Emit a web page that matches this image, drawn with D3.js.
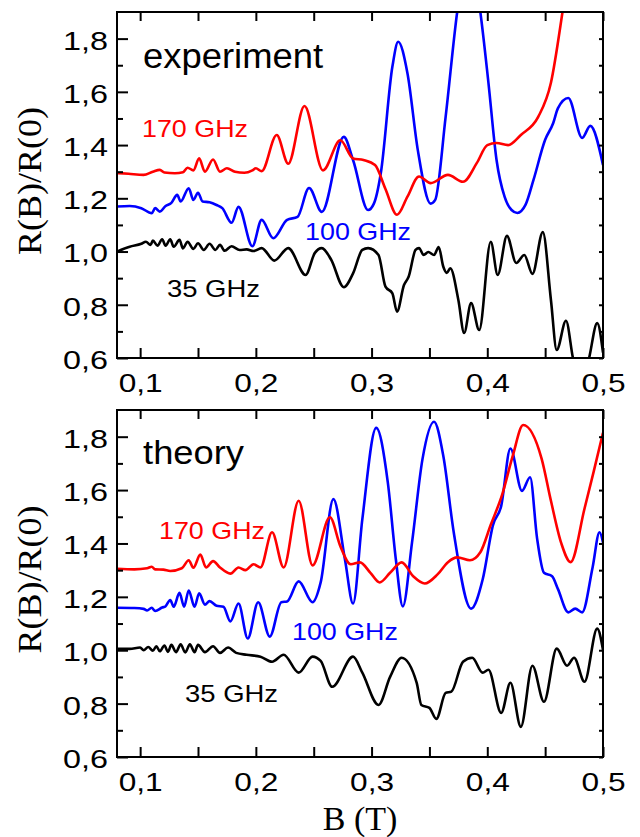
<!DOCTYPE html>
<html>
<head>
<meta charset="utf-8">
<script src="https://cdn.jsdelivr.net/npm/d3@7"></script>
<style>
  body { margin: 0; background: #fff; }
</style>
</head>
<body>
<div id="chart"></div>
<script>
// --- data: [B (T), R(B)/R(0)] ---
const expRed = [[0.080,1.295],[0.090,1.292],[0.103,1.288],[0.111,1.300],[0.117,1.307],[0.121,1.297],[0.130,1.294],[0.137,1.298],[0.141,1.315],[0.146,1.305],[0.151,1.350],[0.156,1.300],[0.163,1.346],[0.169,1.300],[0.175,1.313],[0.182,1.300],[0.190,1.296],[0.197,1.305],[0.200,1.313],[0.205,1.302],[0.218,1.438],[0.228,1.330],[0.242,1.547],[0.258,1.305],[0.273,1.418],[0.284,1.350],[0.293,1.344],[0.303,1.325],[0.312,1.235],[0.322,1.138],[0.331,1.206],[0.341,1.282],[0.351,1.257],[0.366,1.288],[0.379,1.262],[0.391,1.333],[0.400,1.400],[0.408,1.408],[0.418,1.400],[0.429,1.438],[0.444,1.506],[0.455,1.634],[0.465,1.900],[0.470,2.050]];
const expBlue = [[0.080,1.169],[0.091,1.171],[0.101,1.163],[0.110,1.144],[0.113,1.163],[0.117,1.150],[0.122,1.171],[0.127,1.183],[0.132,1.213],[0.135,1.188],[0.142,1.238],[0.146,1.194],[0.150,1.221],[0.154,1.188],[0.160,1.185],[0.166,1.175],[0.171,1.163],[0.179,1.108],[0.185,1.168],[0.197,1.020],[0.205,1.119],[0.215,1.050],[0.227,1.119],[0.236,1.130],[0.246,1.239],[0.257,1.149],[0.276,1.431],[0.284,1.344],[0.297,1.156],[0.302,1.180],[0.308,1.295],[0.318,1.695],[0.323,1.788],[0.331,1.670],[0.340,1.380],[0.351,1.180],[0.355,1.194],[0.364,1.506],[0.374,1.900],[0.384,2.150],[0.394,1.900],[0.401,1.634],[0.408,1.344],[0.415,1.205],[0.421,1.156],[0.426,1.145],[0.433,1.175],[0.440,1.270],[0.450,1.420],[0.457,1.483],[0.461,1.538],[0.470,1.577],[0.482,1.427],[0.489,1.472],[0.500,1.325]];
const expBlack = [[0.080,1.000],[0.091,1.018],[0.101,1.029],[0.105,1.037],[0.109,1.025],[0.111,1.041],[0.115,1.022],[0.119,1.046],[0.122,1.022],[0.126,1.046],[0.129,1.018],[0.134,1.044],[0.137,1.012],[0.141,1.037],[0.146,1.010],[0.150,1.031],[0.155,1.006],[0.160,1.029],[0.165,1.006],[0.169,1.025],[0.173,1.003],[0.179,1.020],[0.186,1.006],[0.192,1.008],[0.198,1.002],[0.205,1.013],[0.216,0.966],[0.228,1.013],[0.243,0.912],[0.251,0.995],[0.257,1.013],[0.265,0.970],[0.276,0.866],[0.284,0.918],[0.292,1.006],[0.297,1.013],[0.306,0.987],[0.312,0.868],[0.318,0.843],[0.322,0.774],[0.328,0.874],[0.332,0.905],[0.338,1.006],[0.341,1.013],[0.345,0.987],[0.349,0.998],[0.354,0.987],[0.358,1.017],[0.362,0.943],[0.365,0.920],[0.368,0.937],[0.375,0.818],[0.380,0.694],[0.386,0.806],[0.393,0.705],[0.403,1.037],[0.409,0.912],[0.417,1.059],[0.425,0.957],[0.432,0.987],[0.439,0.916],[0.448,1.073],[0.455,0.818],[0.460,0.630],[0.468,0.740],[0.474,0.600],[0.481,0.480],[0.488,0.600],[0.495,0.731],[0.500,0.620]];

const theoRed = [[0.080,1.305],[0.095,1.303],[0.106,1.307],[0.110,1.313],[0.113,1.303],[0.120,1.302],[0.126,1.297],[0.136,1.307],[0.142,1.337],[0.146,1.309],[0.152,1.358],[0.157,1.310],[0.163,1.334],[0.169,1.310],[0.178,1.287],[0.185,1.310],[0.191,1.300],[0.198,1.322],[0.204,1.310],[0.214,1.442],[0.224,1.310],[0.237,1.560],[0.249,1.318],[0.264,1.498],[0.273,1.390],[0.282,1.322],[0.290,1.329],[0.299,1.290],[0.307,1.254],[0.316,1.290],[0.326,1.329],[0.336,1.277],[0.346,1.250],[0.357,1.284],[0.366,1.330],[0.374,1.348],[0.385,1.337],[0.394,1.367],[0.403,1.470],[0.413,1.585],[0.422,1.728],[0.431,1.844],[0.447,1.717],[0.455,1.560],[0.464,1.400],[0.472,1.330],[0.484,1.530],[0.492,1.670],[0.500,1.815]];
const theoBlue = [[0.080,1.159],[0.095,1.158],[0.103,1.155],[0.106,1.149],[0.110,1.159],[0.113,1.147],[0.119,1.160],[0.122,1.165],[0.126,1.188],[0.129,1.163],[0.134,1.215],[0.138,1.163],[0.142,1.224],[0.147,1.163],[0.151,1.213],[0.156,1.171],[0.160,1.184],[0.166,1.167],[0.172,1.163],[0.178,1.108],[0.185,1.175],[0.193,1.044],[0.202,1.180],[0.212,1.051],[0.222,1.180],[0.227,1.183],[0.237,1.258],[0.249,1.180],[0.256,1.254],[0.267,1.566],[0.277,1.340],[0.284,1.175],[0.292,1.490],[0.304,1.833],[0.314,1.630],[0.321,1.340],[0.327,1.164],[0.335,1.405],[0.344,1.716],[0.354,1.856],[0.362,1.728],[0.371,1.442],[0.386,1.156],[0.396,1.265],[0.405,1.470],[0.412,1.540],[0.420,1.756],[0.430,1.597],[0.437,1.648],[0.443,1.420],[0.449,1.290],[0.456,1.277],[0.461,1.230],[0.470,1.142],[0.476,1.156],[0.482,1.142],[0.491,1.310],[0.497,1.442],[0.500,1.404]];
const theoBlack = [[0.080,1.005],[0.091,1.005],[0.100,1.010],[0.103,1.000],[0.107,1.012],[0.111,0.998],[0.114,1.015],[0.117,0.996],[0.121,1.018],[0.124,0.994],[0.127,1.020],[0.131,0.993],[0.135,1.022],[0.139,0.992],[0.143,1.022],[0.147,0.993],[0.150,1.020],[0.156,0.993],[0.163,1.015],[0.169,0.990],[0.176,1.010],[0.183,0.990],[0.192,0.983],[0.204,0.976],[0.214,0.957],[0.224,0.983],[0.237,0.916],[0.249,0.976],[0.256,0.960],[0.266,0.863],[0.284,0.976],[0.292,0.916],[0.306,0.795],[0.316,0.900],[0.326,0.972],[0.339,0.878],[0.343,0.795],[0.350,0.784],[0.356,0.743],[0.364,0.840],[0.369,0.845],[0.379,0.957],[0.387,0.972],[0.396,0.916],[0.401,0.927],[0.412,0.765],[0.420,0.878],[0.429,0.713],[0.439,0.942],[0.449,0.807],[0.460,1.006],[0.469,0.942],[0.475,0.972],[0.484,0.882],[0.495,1.081],[0.500,1.002]];

const xTicks = [0.1, 0.2, 0.3, 0.4, 0.5];
const xMinor = [0.15, 0.25, 0.35, 0.45];
const yTicks = [0.6, 0.8, 1.0, 1.2, 1.4, 1.6, 1.8];
const yMinor = [0.7, 0.9, 1.1, 1.3, 1.5, 1.7];

// label text and anchor positions in data coordinates
const expLabels = [
    {text: "experiment", b: 0.1025, v: 1.690, color: "#000", size: 35, len: 180},
    {text: "170 GHz", b: 0.1016, v: 1.431, color: "#f00", size: 24, len: 106},
    {text: "100 GHz", b: 0.2425, v: 1.044, color: "#00f", size: 24, len: 106},
    {text: "35 GHz", b: 0.1232, v: 0.829, color: "#000", size: 24, len: 93},
];
const theoLabels = [
    {text: "theory", b: 0.1025, v: 1.698, color: "#000", size: 34, len: 101},
    {text: "170 GHz", b: 0.1163, v: 1.416, color: "#f00", size: 24, len: 106},
    {text: "100 GHz", b: 0.2312, v: 1.040, color: "#00f", size: 24, len: 106},
    {text: "35 GHz", b: 0.1388, v: 0.807, color: "#000", size: 24, len: 93},
];

const width = 640;
const height = 837;
const sans = "'Liberation Sans', Arial, sans-serif";
const serif = "'Liberation Serif', 'Times New Roman', serif";

const svg = d3.select("#chart").append("svg")
    .attr("width", width)
    .attr("height", height);

const x = d3.scaleLinear().domain([0.08, 0.5]).range([117, 603]);
const comma = d => d3.format(".1f")(d).replace(".", ",");

const panels = [
    {id: "p0", top: 12, bottom: 358, curves: [[expBlack, "#000"], [expBlue, "#00f"], [expRed, "#f00"]], labels: expLabels},
    {id: "p1", top: 410, bottom: 757, curves: [[theoBlack, "#000"], [theoBlue, "#00f"], [theoRed, "#f00"]], labels: theoLabels},
];

const styleAxis = function (g) {
    g.select(".domain").remove();
    g.selectAll("line").attr("stroke", "#000").attr("stroke-width", 2);
    g.selectAll("text")
        .attr("fill", "#000")
        .style("font-family", sans)
        .style("font-size", "26px");
};

panels.forEach(function (p) {
    const y = d3.scaleLinear().domain([0.6, 1.9]).range([p.bottom, p.top]);
    const g = svg.append("g");

    g.append("clipPath").attr("id", "clip-" + p.id)
        .append("rect")
        .attr("x", x.range()[0]).attr("y", p.top)
        .attr("width", x.range()[1] - x.range()[0])
        .attr("height", p.bottom - p.top);

    const line = d3.line()
        .x(d => x(d[0]))
        .y(d => y(d[1]))
        .curve(d3.curveMonotoneX);

    g.append("g")
        .attr("clip-path", "url(#clip-" + p.id + ")")
        .selectAll("path")
        .data(p.curves)
        .enter()
        .append("path")
        .attr("d", d => line(d[0]))
        .attr("fill", "none")
        .attr("stroke", d => d[1])
        .attr("stroke-width", 2.6)
        .attr("stroke-linejoin", "round");

    // bottom axis
    g.append("g")
        .attr("transform", "translate(0," + p.bottom + ")")
        .call(d3.axisBottom(x).tickValues(xTicks).tickFormat(comma).tickSize(-10).tickPadding(16))
        .call(styleAxis)
        .selectAll("text")
        .attr("textLength", 44)
        .attr("lengthAdjust", "spacingAndGlyphs");
    g.append("g")
        .attr("transform", "translate(0," + p.bottom + ")")
        .call(d3.axisBottom(x).tickValues(xMinor).tickFormat("").tickSize(-10))
        .call(styleAxis);
    // top axis
    g.append("g")
        .attr("transform", "translate(0," + p.top + ")")
        .call(d3.axisTop(x).tickValues(xTicks.concat(xMinor)).tickFormat("").tickSize(-9))
        .call(styleAxis);
    // left axis
    g.append("g")
        .attr("transform", "translate(" + x.range()[0] + ",0)")
        .call(d3.axisLeft(y).tickValues(yTicks).tickFormat(comma).tickSize(-11).tickPadding(9))
        .call(styleAxis)
        .selectAll("text")
        .attr("dy", "0.40em")
        .attr("textLength", 45)
        .attr("lengthAdjust", "spacingAndGlyphs");
    g.append("g")
        .attr("transform", "translate(" + x.range()[0] + ",0)")
        .call(d3.axisLeft(y).tickValues(yMinor).tickFormat("").tickSize(-6))
        .call(styleAxis);
    // right axis
    g.append("g")
        .attr("transform", "translate(" + x.range()[1] + ",0)")
        .call(d3.axisRight(y).tickValues(yTicks.concat(yMinor)).tickFormat("").tickSize(-4))
        .call(styleAxis);

    // frame
    g.append("rect")
        .attr("x", x.range()[0]).attr("y", p.top)
        .attr("width", x.range()[1] - x.range()[0])
        .attr("height", p.bottom - p.top)
        .attr("fill", "none")
        .attr("stroke", "#000")
        .attr("stroke-width", 2);

    // y title
    g.append("text")
        .attr("transform", "translate(41," + ((p.top + p.bottom) / 2 - 4) + ") rotate(-90)")
        .attr("text-anchor", "middle")
        .style("font-family", serif)
        .style("font-size", "34px")
        .attr("textLength", 148)
        .attr("lengthAdjust", "spacingAndGlyphs")
        .text("R(B)/R(0)");

    // curve labels
    g.selectAll("text.lab")
        .data(p.labels)
        .enter()
        .append("text")
        .attr("class", "lab")
        .attr("x", d => x(d.b))
        .attr("y", d => y(d.v))
        .attr("fill", d => d.color)
        .style("font-family", sans)
        .style("font-size", d => d.size + "px")
        .attr("textLength", d => d.len)
        .attr("lengthAdjust", "spacingAndGlyphs")
        .text(d => d.text);
});

svg.append("text")
    .attr("x", x(0.29))
    .attr("y", 830)
    .attr("text-anchor", "middle")
    .style("font-family", serif)
    .style("font-size", "34px")
    .text("B (T)");
</script>
</body>
</html>
